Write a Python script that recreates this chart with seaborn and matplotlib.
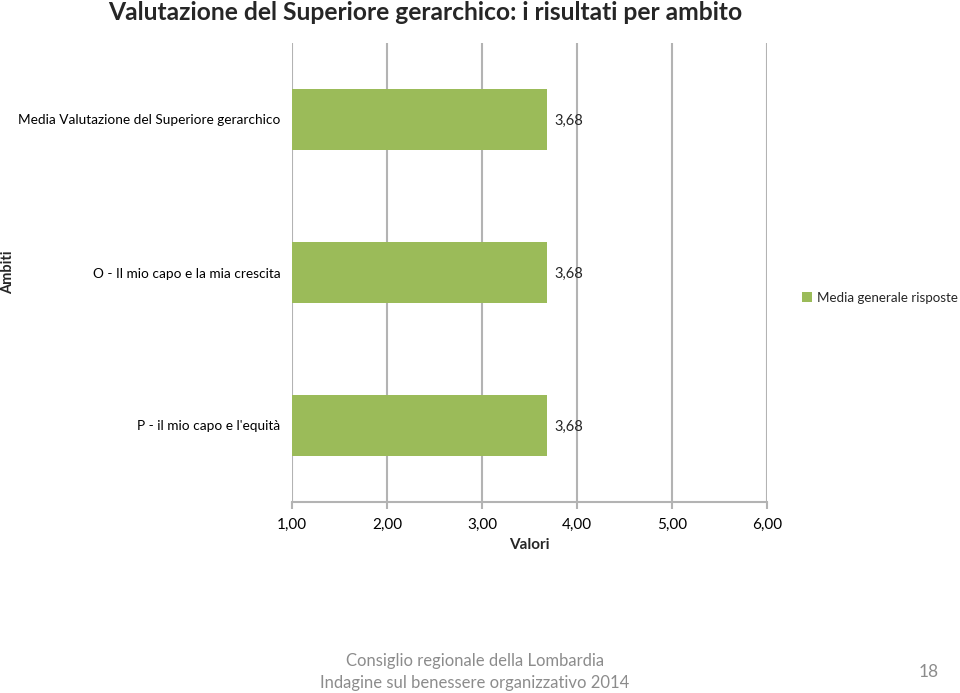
import matplotlib
matplotlib.use("Agg")
import matplotlib.pyplot as plt
import seaborn as sns
import pandas as pd
from matplotlib.patches import Patch

categories = ["Media Valutazione del Superiore gerarchico",
              "O - Il mio capo e la mia crescita",
              "P - il mio capo e l'equità"]
values = [3.68, 3.68, 3.68]
x_ticks = [1, 2, 3, 4, 5, 6]
x_tick_labels = ["1,00", "2,00", "3,00", "4,00", "5,00", "6,00"]
series_name = "Media generale risposte"

sns.set_theme(style="white")
plt.rcParams['font.family'] = ['Lato', 'DejaVu Sans']

df = pd.DataFrame({"Ambito": categories, "Valore": values})

fig = plt.figure(figsize=(9.6, 6.93), dpi=100)
ax = fig.add_axes([292/960, 1-502/693, (767-292)/960, (502-43)/693])

GREEN = "#9BBB59"
GRID = "#B3B3B3"

for xv in x_ticks:
    ax.axvline(xv, color=GRID, lw=1.5, zorder=0)

sns.barplot(data=df, x="Valore", y="Ambito", orient="h", color=GREEN,
            width=0.4, ax=ax, saturation=1, zorder=2)

# bars start at 1
for p, v in zip(ax.patches, values):
    p.set_x(1)
    p.set_width(v - 1)
    p.set_edgecolor("none")

ax.set_xlim(1, 6)
ax.set_ylim(2.5, -0.5)
ax.set_xticks(x_ticks)
ax.set_xticklabels(x_tick_labels, fontsize=11, color="#000000")
ax.tick_params(axis="x", length=5, width=1.5, color=GRID, pad=6.5, bottom=True)
ax.tick_params(axis="y", length=0, pad=8.5, labelsize=9.8, labelcolor="#000000")
for s in ["top", "right", "left"]:
    ax.spines[s].set_visible(False)
ax.spines["bottom"].set_color(GRID)
ax.spines["bottom"].set_linewidth(1.5)
ax.set_xlabel("Valori", fontsize=11, fontweight="bold", labelpad=4)
ax.set_ylabel("")

for p, v in zip(ax.patches, values):
    ax.text(p.get_x() + p.get_width() + 0.08, p.get_y() + p.get_height() / 2 + 0.01,
            f"{v:.2f}".replace(".", ","), va="center", ha="left", fontsize=10.5)

fig.text(8/960, 1-272/693, "Ambiti", rotation=90, fontsize=10.5,
         fontweight="bold", ha="center", va="center")

fig.text(425/960, 1-12/693, "Valutazione del Superiore gerarchico: i risultati per ambito",
         fontsize=17.7, fontweight="bold", ha="center", va="center")

leg = fig.legend(handles=[Patch(facecolor=GREEN, edgecolor="none", label=series_name)],
                 loc="center left", bbox_to_anchor=(802/960, 1-298/693),
                 frameon=False, fontsize=9.6, handlelength=0.75, handleheight=0.75,
                 handletextpad=0.35, borderaxespad=0, borderpad=0)

fig.text(475/960, 1-661/693, "Consiglio regionale della Lombardia",
         fontsize=12, color="#8C8C8C", ha="center", va="center")
fig.text(475/960, 1-683/693, "Indagine sul benessere organizzativo 2014",
         fontsize=12, color="#8C8C8C", ha="center", va="center")
fig.text(929/960, 1-672/693, "18", fontsize=12.5, color="#8C8C8C",
         ha="center", va="center")

fig.savefig("out.png", dpi=100)
